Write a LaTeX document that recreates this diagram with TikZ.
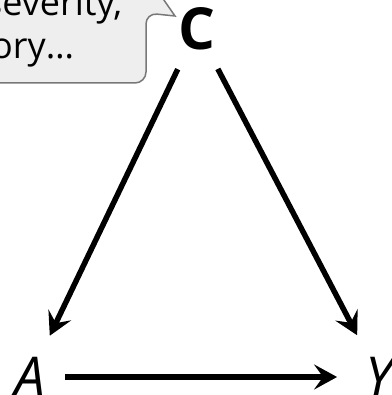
\documentclass[tikz,border=0pt]{standalone}
\usepackage{fontspec}
\setmainfont{Open Sans}
\usetikzlibrary{arrows.meta,positioning}
\definecolor{bubblefill}{RGB}{238,238,238}
\definecolor{bubbleline}{RGB}{120,120,120}

\begin{document}
\begin{tikzpicture}[x=1pt,y=-1pt,
    var/.style={inner sep=0pt,outer sep=0pt,font=\fontsize{55}{60}\selectfont},
    note/.style={inner sep=0pt,font=\fontsize{36}{42}\selectfont},
    edge/.style={line width=5.5pt,-{Stealth[length=23pt,width=25pt,inset=9pt]}}]
\useasboundingbox (0,0) rectangle (391,395);
\clip (0,0) rectangle (391,395);
% speech bubble
\draw[fill=bubblefill,draw=bubbleline,line width=1.5pt,rounded corners=11pt]
    (-30,-40) -- (-30,83) -- (146,83) -- (146,13) [sharp corners] -- (175,16) -- (150,-20) -- (-30,-40);
\node[note,anchor=base west] (t1) at (-15,16) {severity,};
\node[note,anchor=base west] (t2) at (-9,59) {ory…};
% variables
\node[var,font=\fontsize{58}{64}\selectfont\bfseries] (C) at (197,29) {C};
\node[var,font=\fontsize{55}{60}\selectfont\itshape] (A) at (30,377) {A};
\node[var,font=\fontsize{55}{60}\selectfont\itshape] (Y) at (379,377) {Y};
\draw[edge,shorten <=21pt,shorten >=24pt] (C) -- (A);
\draw[edge,shorten <=21pt,shorten >=25pt] (C) -- (Y);
\draw[edge,shorten <=20pt,shorten >=28pt] (A) -- (Y);
\end{tikzpicture}
\end{document}
